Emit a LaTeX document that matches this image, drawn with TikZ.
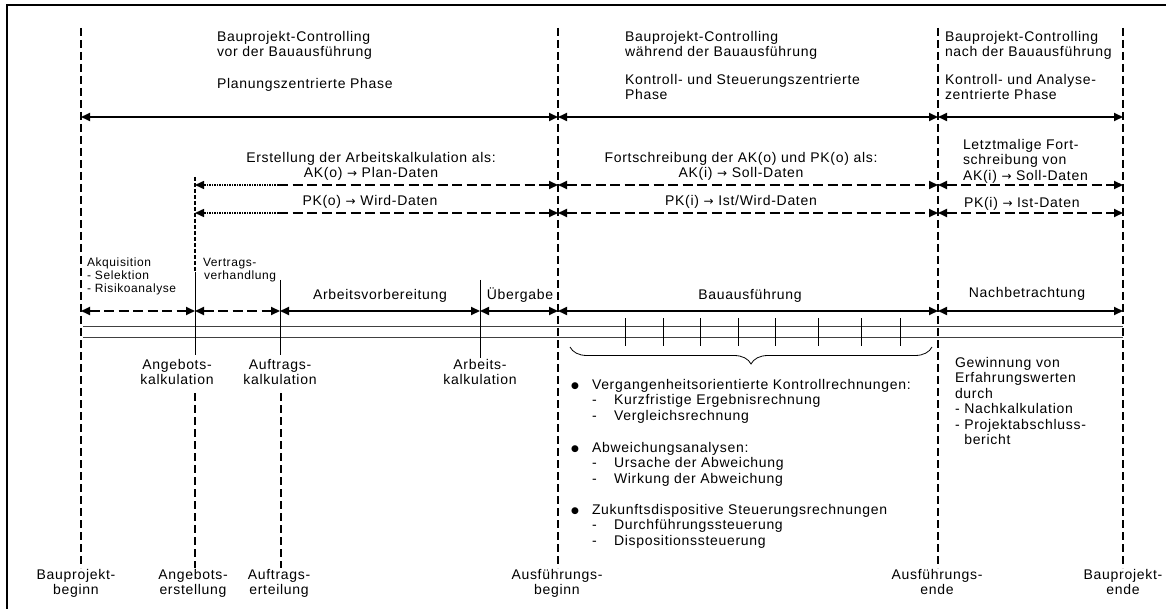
\documentclass[tikz,border=0pt]{standalone}
\usepackage{fontspec}
\setmainfont{Liberation Sans}[LetterSpace=5]
\newfontfamily\symfont{DejaVu Sans}
\usetikzlibrary{arrows.meta,decorations.pathreplacing}
\newcommand\lbul{\makebox[21pt][l]{\raisebox{0.5pt}{\symfont\fontsize{9}{9}\selectfont ●}}}
\newcommand\lsub{\hspace*{21pt}\makebox[22pt][l]{-}}
\newcommand\darr{{\symfont\fontsize{12}{12}\selectfont →}}
\begin{document}
\begin{tikzpicture}[x=1pt,y=-1pt,
  >={Triangle[length=9pt,width=8pt]},
  every node/.style={inner sep=0pt, outer sep=0pt},
  txt/.style={font=\fontsize{14}{15.5}\selectfont},
  small/.style={font=\fontsize{12}{12.8}\selectfont},
  frame/.style={line width=2.4pt},
  milestone/.style={line width=2.3pt, dash pattern=on 8pt off 4pt},
  finedash/.style={line width=1.2pt, dash pattern=on 4pt off 2pt},
  minor/.style={line width=1pt},
  span/.style={line width=1.7pt, <->},
  dspan/.style={line width=1.8pt, dash pattern=on 10pt off 4.5pt},
  dotspan/.style={line width=1.5pt, dash pattern=on 1.5pt off 1pt},
  bar/.style={line width=0.8pt, black!75},
  tick/.style={line width=1pt},
]
\useasboundingbox (0,0) rectangle (1166,609);

% outer frame
\coordinate (fBL) at (7,615);
\coordinate (fTL) at (7,5);
\coordinate (fTR) at (1172,5);
\draw[frame] (fBL) -- (fTL) -- (fTR);

% milestone lines
\foreach \n/\x in {pb/81, ab/558, ae/938, pe/1123}{
  \coordinate (\n-top) at (\x,28);
  \coordinate (\n-bot) at (\x,568);
  \draw[milestone] (\n-top) -- (\n-bot);
}

% phase row
\coordinate (r1a) at (81,117);
\coordinate (r1b) at (558,117);
\coordinate (r1c) at (938,117);
\coordinate (r1d) at (1123,117);
\draw[span] (r1a) -- (r1b);
\draw[span] (r1b) -- (r1c);
\draw[span] (r1c) -- (r1d);

% AK row
\coordinate (r2a) at (195,185);
\coordinate (r2m) at (278,185);
\coordinate (r2b) at (558,185);
\coordinate (r2c) at (938,185);
\coordinate (r2d) at (1123,185);
\draw[dotspan,->] (r2m) -- (r2a);
\draw[dspan,->] (r2m) -- (r2b);
\draw[dspan,<->] (r2b) -- (r2c);
\draw[dspan,<->] (r2c) -- (r2d);

% PK row
\coordinate (r3a) at (195,213);
\coordinate (r3m) at (278,213);
\coordinate (r3b) at (558,213);
\coordinate (r3c) at (938,213);
\coordinate (r3d) at (1123,213);
\draw[dotspan,->] (r3m) -- (r3a);
\draw[dspan,->] (r3m) -- (r3b);
\draw[dspan,<->] (r3b) -- (r3c);
\draw[dspan,<->] (r3c) -- (r3d);

% timeline row
\coordinate (r4a) at (81,311);
\coordinate (r4b) at (195,311);
\coordinate (r4c) at (280,311);
\coordinate (r4d) at (480,311);
\coordinate (r4e) at (558,311);
\coordinate (r4f) at (938,311);
\coordinate (r4g) at (1123,311);
\draw[dspan,<->] (r4a) -- (r4b);
\draw[dspan,<->] (r4b) -- (r4c);
\draw[span] (r4c) -- (r4d);
\draw[span] (r4d) -- (r4e);
\draw[span] (r4e) -- (r4f);
\draw[span] (r4f) -- (r4g);

% time bar
\coordinate (b1s) at (83,326);
\coordinate (b1e) at (1123,326);
\coordinate (b2s) at (83,337);
\coordinate (b2e) at (1123,337);
\draw[bar] (b1s) -- (b1e);
\draw[bar] (b2s) -- (b2e);

% ticks during construction
\foreach \i/\x in {1/625,2/663,3/700,4/738,5/775,6/818,7/861,8/900}{
  \coordinate (tk\i-t) at (\x,318);
  \coordinate (tk\i-b) at (\x,346);
  \draw[tick] (tk\i-t) -- (tk\i-b);
}

% brace under construction phase
\coordinate (brL) at (570,347);
\coordinate (brR) at (932,347);
\draw[line width=0.8pt, decorate, decoration={brace, mirror, amplitude=17pt}] (brL) -- (brR);

% minor milestones
\coordinate (ang-top) at (195,177);
\coordinate (ang-mid) at (195,272);
\coordinate (ang-bot) at (195,355);
\draw[finedash] (ang-top) -- (ang-mid);
\draw[minor] (ang-mid) -- (ang-bot);
\coordinate (ang-lt) at (195,393);
\coordinate (ang-lb) at (195,568);
\draw[milestone] (ang-lt) -- (ang-lb);

\coordinate (auf-top) at (280,280);
\coordinate (auf-bot) at (280,355);
\draw[minor] (auf-top) -- (auf-bot);
\coordinate (auf-lt) at (281,393);
\coordinate (auf-lb) at (281,568);
\draw[milestone] (auf-lt) -- (auf-lb);

\coordinate (arb-top) at (480,280);
\coordinate (arb-bot) at (480,358);
\draw[minor] (arb-top) -- (arb-bot);

% phase headings
\node[txt, align=left, anchor=north west] (t1) at (217,31) {Bauprojekt-Controlling\\vor der Bauausführung};
\node[txt, anchor=base west] (t1p) at (217,89) {Planungszentrierte Phase};
\node[txt, align=left, anchor=north west] (t2) at (625,31) {Bauprojekt-Controlling\\während der Bauausführung};
\node[txt, align=left, anchor=north west] (t2p) at (625,74) {Kontroll- und Steuerungszentrierte\\Phase};
\node[txt, align=left, anchor=north west] (t3) at (945,31) {Bauprojekt-Controlling\\nach der Bauausführung};
\node[txt, align=left, anchor=north west] (t3p) at (945,74) {Kontroll- und Analyse-\\zentrierte Phase};

% calculation data
\node[txt, align=center, anchor=north] (ak1) at (371,152) {Erstellung der Arbeitskalkulation als:\\AK(o) \darr{} Plan-Daten};
\node[txt, anchor=base] (pk1) at (370,206) {PK(o) \darr{} Wird-Daten};
\node[txt, align=center, anchor=north] (ak2) at (741,152) {Fortschreibung der AK(o) und PK(o) als:\\AK(i) \darr{} Soll-Daten};
\node[txt, anchor=base] (pk2) at (741,206) {PK(i) \darr{} Ist/Wird-Daten};
\node[txt, align=left, anchor=north west] (ak3) at (963,139) {Letztmalige Fort-\\schreibung von\\AK(i) \darr{} Soll-Daten};
\node[txt, anchor=base west] (pk3) at (964,208) {PK(i) \darr{} Ist-Daten};

% timeline phases
\node[small, align=left, anchor=north west] (akq) at (87,258) {Akquisition\\- Selektion\\- Risikoanalyse};
\node[small, align=left, anchor=north west] (vtr) at (203,258) {Vertrags-\\\hspace*{1pt}verhandlung};
\node[txt, anchor=base] (avb) at (380,300) {Arbeitsvorbereitung};
\node[txt, anchor=base] (ueb) at (520,300) {Übergabe};
\node[txt, anchor=base] (bau) at (750,300) {Bauausführung};
\node[txt, anchor=base] (nach) at (1027,298) {Nachbetrachtung};

% calculations below the bar
\node[txt, align=center, anchor=north] (angk) at (177,359) {Angebots-\\kalkulation};
\node[txt, align=center, anchor=north] (aufk) at (280,359) {Auftrags-\\kalkulation};
\node[txt, align=center, anchor=north] (arbk) at (480,359) {Arbeits-\\kalkulation};

% controlling tasks during construction
\node[txt, align=left, anchor=north west] (l1) at (571,379) {\lbul Vergangenheitsorientierte Kontrollrechnungen:\\\lsub Kurzfristige Ergebnisrechnung\\\lsub Vergleichsrechnung};
\node[txt, align=left, anchor=north west] (l2) at (571,442) {\lbul Abweichungsanalysen:\\\lsub Ursache der Abweichung\\\lsub Wirkung der Abweichung};
\node[txt, align=left, anchor=north west] (l3) at (571,504) {\lbul Zukunftsdispositive Steuerungsrechnungen\\\lsub Durchführungssteuerung\\\lsub Dispositionssteuerung};

% after construction
\node[txt, align=left, anchor=north west] (gew) at (955,357) {Gewinnung von\\Erfahrungswerten\\durch\\- Nachkalkulation\\- Projektabschluss-\\\hphantom{- }bericht};

% milestone names
\node[txt, align=center, anchor=north] (lb1) at (76,569) {Bauprojekt-\\beginn};
\node[txt, align=center, anchor=north] (lb2) at (193,569) {Angebots-\\erstellung};
\node[txt, align=center, anchor=north] (lb3) at (279,569) {Auftrags-\\erteilung};
\node[txt, align=center, anchor=north] (lb4) at (557,569) {Ausführungs-\\beginn};
\node[txt, align=center, anchor=north] (lb5) at (937,569) {Ausführungs-\\ende};
\node[txt, align=center, anchor=north] (lb6) at (1123,569) {Bauprojekt-\\ende};
\end{tikzpicture}
\end{document}
